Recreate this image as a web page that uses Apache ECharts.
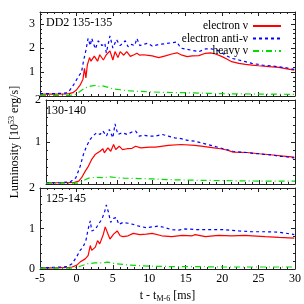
<!DOCTYPE html>
<html><head><meta charset="utf-8">
<script src="https://cdn.jsdelivr.net/npm/echarts@6/dist/echarts.min.js"></script>
<style>html,body{margin:0;padding:0;background:#fff}#c{width:304px;height:304px}</style>
</head><body><div id="c"></div>
<script>
// ---- data ----
const panelLabels = ['DD2 135-135', '130-140', '125-145'];
const seriesNames = ['electron \u03bd', 'electron anti-\u03bd', 'heavy \u03bd'];
const xTicks = [-5, 0, 5, 10, 15, 20, 25, 30];
const yMax = [3.5, 2, 2];

// Panel 1: DD2 135-135
const p1_e_t = [-5,-3,-1.5,-1,-0.5,0,0.5,0.9,1.1,1.3,1.5,1.8,2.0,2.45,2.9,3.2,3.7,4.1,4.6,5.0,5.3,5.7,6.0,6.5,6.9,7.4,7.9,8.3,8.7,9.2,9.6,10.4,11.3,12.2,13.1,13.8,14.5,15.2,15.9,16.8,17.7,18.4,19.1,20.0,20.7,21.3,22.3,23.2,24.1,25.0,26.4,27.8,28.7,29.9];
const p1_e_v = [0.08,0.08,0.09,0.1,0.14,0.25,0.45,0.7,1.15,0.75,1.3,1.6,1.45,1.66,1.45,1.72,1.5,1.72,1.88,1.5,1.85,1.6,1.85,1.7,1.85,1.65,1.72,1.78,1.7,1.72,1.7,1.67,1.6,1.67,1.75,1.8,1.7,1.64,1.67,1.68,1.78,1.8,1.75,1.64,1.53,1.43,1.36,1.32,1.29,1.26,1.22,1.19,1.14,1.08];
const p1_a_t = [-5,-3,-1.5,-1,-0.4,0.25,0.7,1.0,1.3,1.6,1.9,2.1,2.6,3.0,3.5,3.9,4.1,4.6,5.0,5.5,6.0,6.7,7.1,7.5,8.0,8.3,8.7,9.2,9.8,10.4,11.3,12.2,13.1,13.8,14.3,14.9,15.9,16.8,17.7,18.6,19.5,20.4,21.3,22.3,23.2,24.1,25.5,26.9,28.7,29.9];
const p1_a_v = [0.1,0.1,0.12,0.2,0.46,0.8,1.0,1.5,1.9,2.4,2.1,2.4,1.96,2.3,2.1,2.2,1.8,2.5,2.0,2.35,2.1,2.3,2.05,2.15,2.1,2.4,2.1,2.15,2.2,2.08,2.15,2.18,2.22,2.25,2.0,1.96,1.9,1.85,1.96,1.96,1.89,1.71,1.57,1.5,1.43,1.36,1.29,1.25,1.18,1.11];
const p1_h_t = [-5,-1,-0.3,0.3,1.0,1.6,2.1,2.7,3.0,3.6,4.1,5.0,6.0,7.0,8.0,9.5,12,15,18,21,25,30];
const p1_h_v = [0.03,0.03,0.05,0.15,0.3,0.38,0.42,0.44,0.4,0.42,0.38,0.3,0.26,0.22,0.2,0.18,0.15,0.14,0.11,0.09,0.08,0.07];

// Panel 2: 130-140
const p2_e_t = [-5,-3,-1,-0.4,0,0.5,0.95,1.4,1.9,2.1,2.6,3.0,3.2,3.7,4.1,4.5,4.8,5.3,5.75,6.4,7.1,7.6,8.3,9.6,10.4,12.2,14.0,15.9,16.8,18.6,19.5,20.4,21.3,23.2,25.0,26.9,28.7,29.9];
const p2_e_v = [0.03,0.03,0.04,0.07,0.15,0.3,0.42,0.58,0.7,0.66,0.78,0.84,0.74,0.86,0.78,0.94,0.82,0.9,0.82,0.84,0.85,0.9,0.86,0.88,0.88,0.92,0.94,0.92,0.9,0.86,0.84,0.81,0.76,0.75,0.72,0.69,0.66,0.64];
const p2_a_t = [-5,-3,-1.6,-0.8,-0.2,0.25,0.7,1.2,1.6,2.1,2.6,3.0,3.5,3.9,4.4,4.7,5.1,5.7,6.4,7.1,7.6,8.1,8.7,9.6,10.4,11.3,12.2,13.1,14.0,14.9,15.9,16.8,17.7,18.6,19.5,20.4,21.3,22.3,23.2,24.1,25.0,25.9,26.9,27.8,28.7,29.9];
const p2_a_v = [0.03,0.03,0.05,0.15,0.42,0.7,0.9,1.06,1.14,1.22,1.18,1.26,1.14,1.3,1.1,1.43,1.18,1.22,1.18,1.24,1.26,1.14,1.16,1.14,1.14,1.18,1.14,1.1,1.08,1.04,1.02,0.98,0.94,0.9,0.86,0.82,0.78,0.76,0.75,0.73,0.72,0.7,0.69,0.66,0.65,0.62];
const p2_h_t = [-5,-0.5,0,0.5,1,2,3,4,5,6,8,10,13,16,20,25,30];
const p2_h_v = [0.02,0.02,0.05,0.1,0.14,0.16,0.15,0.17,0.15,0.14,0.13,0.12,0.1,0.09,0.08,0.07,0.07];

// Panel 3: 125-145
const p3_e_t = [-5,-3,-1,-0.6,0,0.5,1.2,1.6,1.9,2.1,2.6,2.9,3.2,3.7,3.95,4.6,5.1,5.6,6.0,6.4,7.1,7.8,8.7,9.6,10.4,11.7,13.1,14.5,15.9,16.3,17.7,19.5,21.3,23.2,24.1,25.9,27.8,29.9];
const p3_e_v = [0.03,0.03,0.04,0.05,0.09,0.17,0.25,0.33,0.58,0.46,0.54,0.7,0.62,0.86,1.04,0.74,0.86,0.94,0.82,0.8,0.82,0.88,0.85,0.86,0.88,0.82,0.8,0.83,0.82,0.85,0.8,0.83,0.82,0.83,0.82,0.8,0.78,0.76];
const p3_a_t = [-5,-3,-1.2,-0.6,0,0.5,0.9,1.3,1.6,1.9,2.1,2.6,3.0,3.5,3.9,4.1,4.4,4.7,5.1,5.5,5.8,6.4,7.1,7.8,8.3,9.6,10.4,11.3,12.2,13.1,14.0,14.9,16.8,18.6,20.4,22.3,24.1,25.9,27.8,29.9];
const p3_a_v = [0.03,0.04,0.06,0.13,0.29,0.46,0.54,0.7,0.98,1.19,0.94,0.98,1.1,1.23,1.43,1.58,1.4,1.15,1.25,1.27,1.1,1.15,1.13,1.1,1.07,1.02,1.04,1.06,1.02,0.97,0.96,0.99,0.97,0.97,0.97,0.94,0.92,0.92,0.91,0.85];
const p3_h_t = [-5,-0.5,0,0.7,1.5,2.5,3.5,4.3,5,6,7,8,10,13,16,20,25,30];
const p3_h_v = [0.02,0.02,0.04,0.08,0.13,0.15,0.15,0.17,0.14,0.12,0.1,0.09,0.07,0.06,0.06,0.05,0.05,0.05];

// ---- build ----
const FONT = 'Liberation Serif';
const zip = (t, v) => t.map((x, i) => [x, v[i]]);
const panelData = [
  [zip(p1_e_t, p1_e_v), zip(p1_a_t, p1_a_v), zip(p1_h_t, p1_h_v)],
  [zip(p2_e_t, p2_e_v), zip(p2_a_t, p2_a_v), zip(p2_h_t, p2_h_v)],
  [zip(p3_e_t, p3_e_v), zip(p3_a_t, p3_a_v), zip(p3_h_t, p3_h_v)]
];
const lineStyles = [
  {color: '#ff0000', width: 1.2, type: 'solid'},
  {color: '#0000ff', width: 1.2, type: [3, 3]},
  {color: '#00dd00', width: 1.2, type: [6, 3, 1, 3]}
];
const grids = [
  {left: 40, right: 9, top: 12, height: 84},
  {left: 40, right: 9, top: 100, height: 84},
  {left: 40, right: 9, top: 188, height: 84}
];
const axisLine = {show: true, onZero: false, lineStyle: {color: '#222', width: 1}};
const tick = {show: true, inside: true, length: 4, lineStyle: {color: '#222'}};
const minor = {show: true, splitNumber: 5, length: 2, lineStyle: {color: '#222'}};
const xAxes = [], yAxes = [], series = [], titles = [];
grids.forEach((g, i) => {
  const base = {type: 'value', gridIndex: i, min: xTicks[0], max: xTicks[xTicks.length - 1], interval: 5,
    axisLine, axisTick: tick, minorTick: minor, splitLine: {show: false}};
  xAxes.push(Object.assign({}, base, {position: 'bottom',
    axisLabel: {show: i === 2, fontFamily: FONT, fontSize: 12, color: '#000', margin: 4},
    name: i === 2 ? '{a|t - t}{s|M-6}{a| [ms]}' : '', nameLocation: 'middle', nameGap: 20,
    nameTextStyle: {rich: {a: {fontFamily: FONT, fontSize: 12, color: '#000', lineHeight: 14},
      s: {fontFamily: FONT, fontSize: 8, color: '#000', verticalAlign: 'bottom', lineHeight: 14, padding: [6,0,0,0]}}}}));
  xAxes.push(Object.assign({}, base, {position: 'top', axisLabel: {show: false}}));
  const ybase = {type: 'value', gridIndex: i, min: 0, max: yMax[i], interval: 1,
    axisLine, axisTick: tick, minorTick: minor, splitLine: {show: false}};
  yAxes.push(Object.assign({}, ybase, {position: 'left',
    axisLabel: {fontFamily: FONT, fontSize: 12, color: '#000', margin: 5,
      formatter: v => (Number.isInteger(v) && !(v === 0 && i < 2)) ? String(v) : ''},
    name: i === 1 ? '{a|Luminosity [10}{s|53}{a| erg/s]}' : '', nameLocation: 'middle', nameGap: 24, nameRotate: 90,
    nameTextStyle: {rich: {a: {fontFamily: FONT, fontSize: 12, color: '#000', lineHeight: 14},
      s: {fontFamily: FONT, fontSize: 8, color: '#000', verticalAlign: 'top', lineHeight: 14, padding: [0,0,6,0]}}}}));
  yAxes.push(Object.assign({}, ybase, {position: 'right', axisLabel: {show: false}}));
  panelData[i].forEach((d, k) => {
    series.push({type: 'line', name: seriesNames[k], xAxisIndex: 2 * i, yAxisIndex: 2 * i,
      data: d, symbol: 'none', lineStyle: lineStyles[k], itemStyle: {color: lineStyles[k].color},
      animation: false, silent: true});
  });
  titles.push({text: panelLabels[i], left: 46, top: g.top + 5, padding: 0,
    textStyle: {fontFamily: FONT, fontSize: 12, fontWeight: 'normal', color: '#000'}});
});
const chart = echarts.init(document.getElementById('c'), null, {renderer: 'canvas'});
chart.setOption({
  backgroundColor: '#fff',
  animation: false,
  title: titles,
  grid: grids,
  xAxis: xAxes,
  yAxis: yAxes,
  legend: {data: seriesNames, orient: 'vertical', right: 17, top: 15, align: 'right',
    itemWidth: 28, itemHeight: 10, itemGap: 0.5,
    itemStyle: {opacity: 0, borderWidth: 0},
    textStyle: {fontFamily: FONT, fontSize: 11.5, color: '#000', padding: [0, 0, 0, 0]}},
  series
});
</script></body></html>
